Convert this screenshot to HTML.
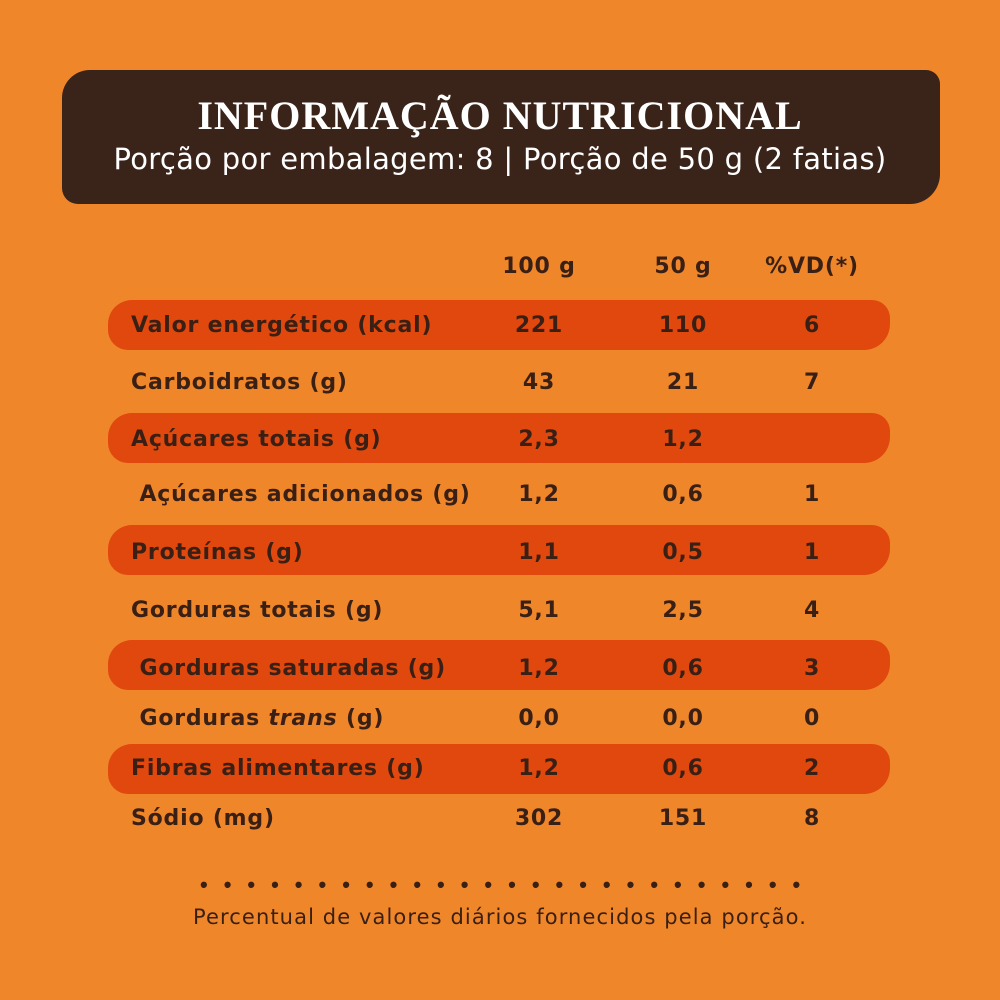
<!DOCTYPE html><html><head><style>
body{margin:0;width:1000px;height:1000px;background:#F0862A;position:relative;overflow:hidden;font-family:"DejaVu Sans",sans-serif;color:#3a2014}
.ban{position:absolute;left:62px;top:70px;width:878px;height:134px;background:#3a2319;border-radius:28px 14px 30px 16px}
.t1{position:absolute;left:0;width:1000px;top:92px;text-align:center;color:#fff;font:bold 40px "Liberation Serif",serif;letter-spacing:1px}
.t2{position:absolute;left:0;width:1000px;top:142px;text-align:center;color:#fff;font-size:29px;letter-spacing:0.3px}
.s{position:absolute;left:108px;width:782px;height:50px;background:#E0480E;border-radius:24px 18px 26px 20px}
.r{position:absolute;left:0;width:1000px;font-size:22px;font-weight:bold;height:30px;letter-spacing:0.8px}
.r span{position:absolute;top:0}
.c1{left:131px}.c2{left:489px;width:100px;text-align:center}.c3{left:633px;width:100px;text-align:center}.c4{left:762px;width:100px;text-align:center}
.dots{position:absolute;top:872px;left:200px;font-family:"Liberation Sans";font-size:22px;letter-spacing:16px;font-weight:bold}
.ft{position:absolute;top:905px;width:1000px;text-align:center;font-size:21px;letter-spacing:1.1px}
</style></head><body>
<div class="ban"></div>
<div class="t1">INFORMAÇÃO NUTRICIONAL</div>
<div class="t2">Porção por embalagem: 8 | Porção de 50 g (2 fatias)</div>
<div class="s" style="top:300px"></div>
<div class="s" style="top:413px"></div>
<div class="s" style="top:525px"></div>
<div class="s" style="top:640px"></div>
<div class="s" style="top:744px"></div>
<div class="r" style="top:254px"><span class="c2">100 g</span><span class="c3">50 g</span><span class="c4">%VD(*)</span></div>
<div class="r" style="top:313px"><span class="c1">Valor energético (kcal)</span><span class="c2">221</span><span class="c3">110</span><span class="c4">6</span></div>
<div class="r" style="top:370px"><span class="c1">Carboidratos (g)</span><span class="c2">43</span><span class="c3">21</span><span class="c4">7</span></div>
<div class="r" style="top:427px"><span class="c1">Açúcares totais (g)</span><span class="c2">2,3</span><span class="c3">1,2</span></div>
<div class="r" style="top:482px"><span class="c1">&nbsp;Açúcares adicionados (g)</span><span class="c2">1,2</span><span class="c3">0,6</span><span class="c4">1</span></div>
<div class="r" style="top:540px"><span class="c1">Proteínas (g)</span><span class="c2">1,1</span><span class="c3">0,5</span><span class="c4">1</span></div>
<div class="r" style="top:598px"><span class="c1">Gorduras totais (g)</span><span class="c2">5,1</span><span class="c3">2,5</span><span class="c4">4</span></div>
<div class="r" style="top:656px"><span class="c1">&nbsp;Gorduras saturadas (g)</span><span class="c2">1,2</span><span class="c3">0,6</span><span class="c4">3</span></div>
<div class="r" style="top:706px"><span class="c1">&nbsp;Gorduras <i>trans</i> (g)</span><span class="c2">0,0</span><span class="c3">0,0</span><span class="c4">0</span></div>
<div class="r" style="top:756px"><span class="c1">Fibras alimentares (g)</span><span class="c2">1,2</span><span class="c3">0,6</span><span class="c4">2</span></div>
<div class="r" style="top:806px"><span class="c1">Sódio (mg)</span><span class="c2">302</span><span class="c3">151</span><span class="c4">8</span></div>
<div class="dots">••••••••••••••••••••••••••</div>
<div class="ft">Percentual de valores diários fornecidos pela porção.</div>
</body></html>
